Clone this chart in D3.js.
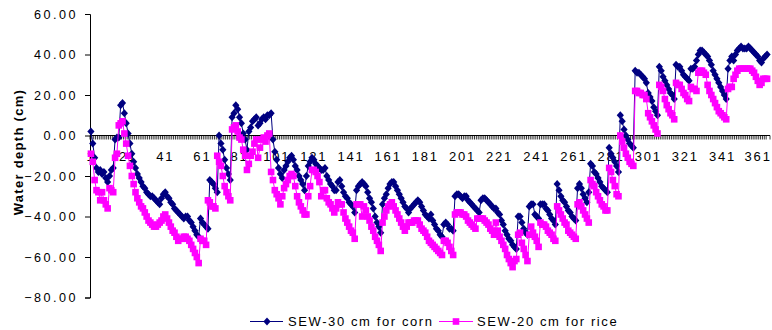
<!DOCTYPE html>
<html><head><meta charset="utf-8">
<script src="https://cdn.jsdelivr.net/npm/d3@7"></script>
<style>body{margin:0;background:#fff}svg{display:block}text{font-family:"Liberation Sans",Arial,sans-serif;fill:#000}</style>
</head><body><svg id="c" width="772" height="330"></svg>
<script>
const days = d3.range(1, 366);
const xTickLabels = [1,21,41,61,81,101,121,141,161,181,201,221,241,261,281,301,321,341,361];
const yTicks = [60,40,20,0,-20,-40,-60,-80];
const seriesNames = ["SEW-30 cm for corn","SEW-20 cm for rice"];
const corn = [
2,-4,-11,-16,-18,-17,-19,-18,-21,-23,
-20,-17,-16,-2,-1,-1,15,16,11,6,
1,-4,-9,-13,-16,-19,-21,-23,-25,-26,
-28,-29,-30,-30,-31,-32,-33,-34,-31,-29,
-28,-30,-31,-33,-34,-36,-37,-38,-39,-40,
-41,-40,-40,-42,-43,-45,-47,-49,-50,-41,
-43,-44,-45,-46,-22,-23,-24,-26,-28,0,
-4,-7,-12,-16,-19,-22,9,11,15,13,
9,6,1,-2,-7,2,4,7,8,9,
5,6,8,9,8,10,10,11,-2,-8,
-12,-16,-19,-21,-17,-15,-13,-11,-10,-12,
-15,-17,-20,-22,-24,-27,-20,-15,-13,-11,
-12,-14,-15,-16,-17,-17,-16,-20,-22,-24,
-25,-27,-27,-23,-22,-25,-28,-30,-31,-33,
-34,-35,-38,-27,-25,-24,-23,-24,-25,-28,
-31,-33,-36,-40,-43,-45,-48,-34,-31,-29,
-26,-24,-23,-23,-25,-27,-29,-31,-33,-35,
-36,-38,-36,-35,-34,-33,-32,-33,-35,-37,
-39,-40,-41,-39,-42,-44,-46,-47,-49,-50,
-44,-43,-44,-46,-46,-47,-30,-29,-29,-30,
-31,-30,-30,-32,-33,-34,-35,-36,-37,-38,
-32,-31,-31,-32,-33,-34,-35,-36,-36,-38,
-39,-42,-44,-47,-49,-51,-52,-54,-55,-56,
-40,-40,-43,-46,-48,-49,-35,-34,-34,-39,
-40,-41,-34,-34,-34,-36,-37,-39,-41,-42,
-44,-24,-27,-30,-32,-33,-35,-37,-38,-40,
-41,-42,-26,-24,-26,-29,-31,-33,-28,-14,
-15,-18,-19,-21,-23,-25,-26,-27,-28,-6,
-9,-11,-13,-15,-18,10,7,3,0,-2,
-4,-5,-6,32,31,31,30,29,28,26,
21,19,17,14,12,10,34,32,29,27,
25,23,21,20,18,35,34,34,32,30,
29,28,27,33,33,34,37,40,42,42,
41,40,39,37,35,32,30,28,26,24,
22,20,18,33,37,39,37,40,42,43,
44,43,43,43,44,43,42,41,40,39,
37,36,38,39,40];
const rice = [
-9,-13,-22,-27,-28,-32,-28,-32,-34,-36,
-26,-27,-28,-11,-9,5,6,7,1,-4,
-10,-15,-20,-24,-28,-31,-33,-35,-36,-38,
-40,-42,-43,-44,-45,-45,-44,-43,-42,-40,
-39,-41,-43,-45,-47,-48,-50,-52,-51,-51,
-50,-50,-51,-52,-54,-56,-58,-60,-63,-51,
-52,-52,-54,-32,-33,-35,-35,-36,-10,-13,
-15,-20,-25,-28,-30,-32,3,4,5,2,
-1,-2,-7,-10,-17,-14,-10,-8,-4,-2,
-11,-6,-2,-1,-3,0,1,-18,-22,-27,
-29,-31,-34,-30,-26,-24,-22,-20,-19,-20,
-25,-30,-33,-35,-37,-39,-39,-30,-25,-17,
-17,-18,-20,-23,-30,-27,-27,-31,-33,-34,
-36,-38,-36,-33,-34,-34,-38,-41,-43,-45,
-47,-48,-51,-34,-34,-34,-40,-35,-37,-40,
-42,-45,-47,-50,-52,-54,-57,-43,-40,-37,
-35,-34,-33,-35,-37,-39,-41,-43,-45,-47,
-45,-43,-43,-43,-42,-42,-42,-44,-46,-47,
-48,-50,-52,-53,-54,-55,-56,-57,-58,-59,
-52,-52,-53,-55,-57,-59,-39,-38,-38,-38,
-39,-39,-40,-42,-43,-44,-45,-46,-41,-41,
-41,-41,-42,-43,-44,-46,-47,-49,-43,-47,
-50,-52,-54,-56,-59,-61,-63,-65,-62,-61,
-49,-48,-53,-56,-59,-62,-49,-45,-48,-50,
-52,-55,-43,-44,-44,-45,-47,-48,-49,-51,
-52,-35,-37,-39,-41,-43,-44,-47,-48,-49,
-50,-51,-34,-33,-35,-37,-39,-41,-43,-22,
-24,-25,-28,-30,-32,-34,-35,-37,-37,-16,
-18,-22,-25,-29,-30,0,-3,-6,-9,-11,
-13,-14,-15,22,22,21,21,20,20,18,
11,9,7,5,3,1,25,24,22,18,
15,13,11,10,8,26,25,25,23,21,
20,18,17,24,23,23,22,31,32,32,
31,30,25,22,20,18,16,14,12,11,
10,9,8,23,24,24,28,30,32,33,
33,33,33,33,33,33,32,31,29,27,
25,26,28,28,28];

const svg = d3.select("#c");
const x = d3.scaleBand().domain(days).range([90, 768]).padding(0);
const cx = d => x(d) + x.bandwidth() / 2;
const y = d3.scaleLinear().domain([-80, 60]).range([297.5, 14]);

// Y axis
const yAxis = d3.axisLeft(y).tickValues(yTicks).tickSize(5).tickFormat(d3.format(".2f"));
const gy = svg.append("g").attr("transform", "translate(90,0)").call(yAxis);
gy.select(".domain").attr("stroke", "#000");
gy.selectAll(".tick line").attr("stroke", "#000");
gy.selectAll(".tick text").attr("x", -12).attr("dy", "0.34em")
  .style("font-size", "12.6px").style("letter-spacing", "2.5px")
  .style("font-family", '"Liberation Sans", Arial, sans-serif').attr("fill", "#000");

// X axis at zero
const xAxis = d3.axisBottom(x).tickValues(xTickLabels).tickSize(0).tickPadding(16);
const gx = svg.append("g").attr("transform", `translate(0,${y(0)})`).call(xAxis);
gx.select(".domain").remove();
gx.selectAll(".tick text").style("font-size", "13px").style("letter-spacing", "1.8px")
  .style("font-family", '"Liberation Sans", Arial, sans-serif').attr("fill", "#000")
  .attr("dx", d => d === 361 ? "-1.5px" : "0px");
const bounds = days.map(d => x(d)).concat([770]);
svg.append("g").selectAll("line").data(bounds).join("line")
  .attr("x1", d => d).attr("x2", d => d)
  .attr("y1", y(0)).attr("y2", y(0) + 4)
  .attr("stroke", "#000").attr("stroke-width", 0.8);
svg.append("line").attr("x1", 90).attr("x2", 770).attr("y1", y(0)).attr("y2", y(0))
  .attr("stroke", "#000").attr("stroke-width", 1);

// Y title
svg.append("text").attr("transform", "translate(22.5,152) rotate(-90)")
  .attr("text-anchor", "middle").style("font-size", "13px").style("font-weight", "bold")
  .style("letter-spacing", "1.3px").text("Water depth (cm)");

const diamond = "M0,-4L3.6,0L0,4L-3.6,0Z";
const line = d3.line().x((v, i) => cx(days[i])).y(v => y(v));

// corn
svg.append("path").datum(corn).attr("d", line).attr("fill", "none")
  .attr("stroke", "#000080").attr("stroke-width", 1);
svg.append("g").selectAll("path").data(corn).join("path")
  .attr("d", diamond).attr("transform", (v, i) => `translate(${cx(days[i])},${y(v)})`)
  .attr("fill", "#000080");

// rice
svg.append("path").datum(rice).attr("d", line).attr("fill", "none")
  .attr("stroke", "#FF00FF").attr("stroke-width", 1);
svg.append("g").selectAll("rect").data(rice).join("rect")
  .attr("x", (v, i) => cx(days[i]) - 3.3).attr("y", v => y(v) - 3.3)
  .attr("width", 6.6).attr("height", 6.6).attr("fill", "#FF00FF");

// legend
const lg = svg.append("g");
const ly = 321.5;
lg.append("line").attr("x1", 250).attr("x2", 283).attr("y1", ly).attr("y2", ly).attr("stroke", "#000080").attr("stroke-width", 1);
lg.append("path").attr("d", diamond).attr("transform", `translate(267,${ly})`).attr("fill", "#000080");
lg.append("text").attr("x", 288).attr("y", ly + 4.5).style("font-size", "13px").style("letter-spacing", "1.6px").text(seriesNames[0]);
lg.append("line").attr("x1", 439).attr("x2", 473).attr("y1", ly).attr("y2", ly).attr("stroke", "#FF00FF").attr("stroke-width", 1);
lg.append("rect").attr("x", 452.7).attr("y", ly - 3.3).attr("width", 6.6).attr("height", 6.6).attr("fill", "#FF00FF");
lg.append("text").attr("x", 477).attr("y", ly + 4.5).style("font-size", "13px").style("letter-spacing", "1.6px").text(seriesNames[1]);
</script></body></html>
